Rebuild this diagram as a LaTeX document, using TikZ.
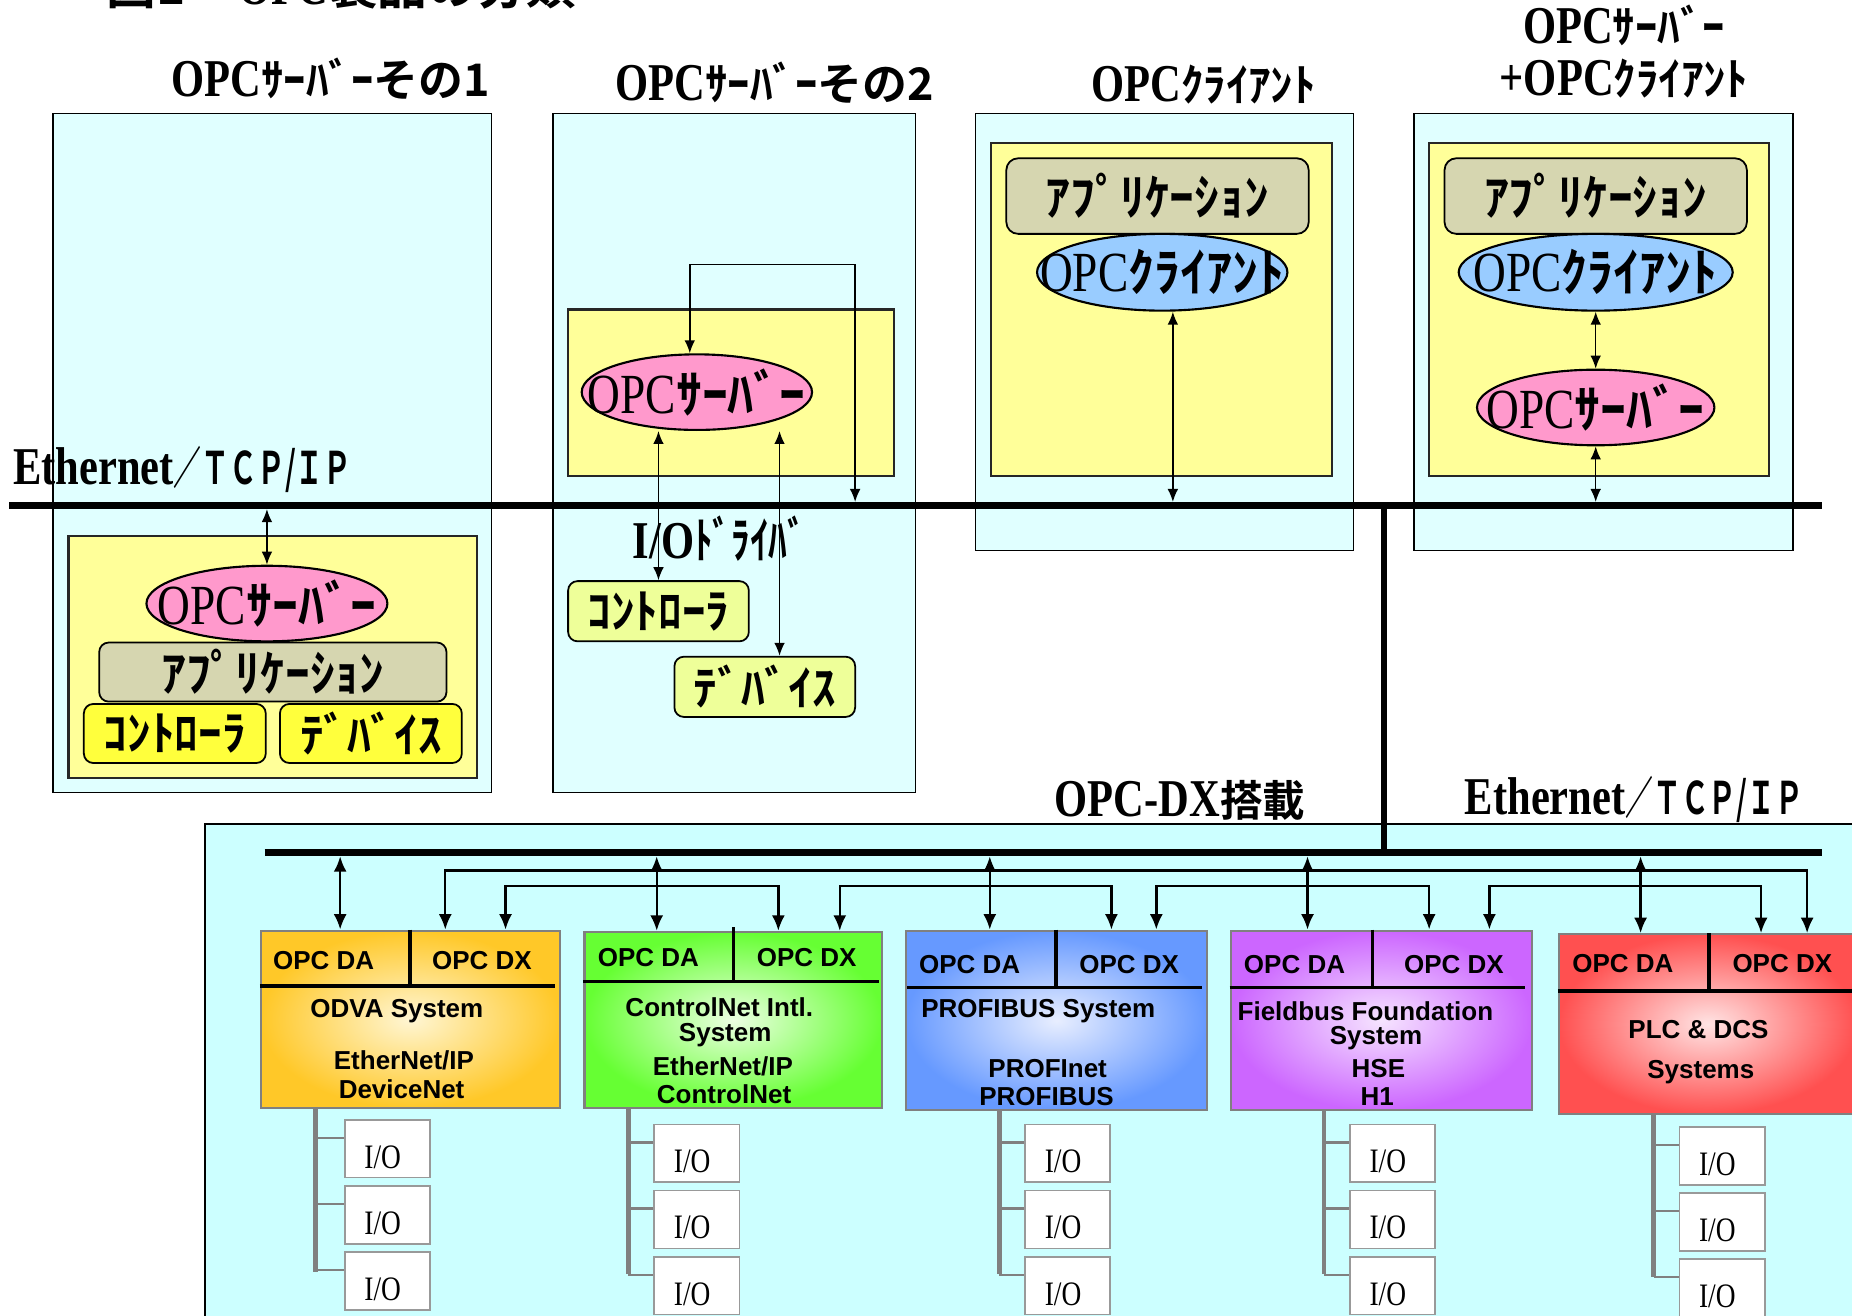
\documentclass[tikz,border=0pt]{standalone}
\usepackage{fontspec}
\usetikzlibrary{shapes.geometric,arrows.meta,calc}
\newfontfamily\tnr{Liberation Serif}[FakeStretch=0.8]
\newfontfamily\jp{Noto Sans CJK JP}[BoldFont={Noto Sans CJK JP Bold}]
\newfontfamily\jpn{Noto Sans CJK JP}[FakeStretch=0.75, BoldFont={Noto Sans CJK JP Bold}]
\newfontfamily\jpc{Noto Sans CJK JP}[FakeStretch=0.62, BoldFont={Noto Sans CJK JP Bold}]
\newfontfamily\ari{Liberation Sans}
\newcommand\fsz[1]{\fontsize{#1}{#1}\selectfont}
\newcommand\ttl[2]{{\fsz{45}\tnr\bfseries #1}{\fsz{38}\jp\bfseries #2}}
\newcommand\elt[2]{{\fsz{48}\tnr #1}{\fsz{44}\jp\bfseries #2}}
\newcommand\ethtxt{{\fsz{45}\tnr\bfseries Ethernet}{\fsz{38}\jpc\bfseries ／ＴＣＰ/ＩＰ}}
\definecolor{cyT}{RGB}{224,255,255}
\definecolor{cyB}{RGB}{204,255,255}
\definecolor{yel}{RGB}{255,255,153}
\definecolor{pnk}{RGB}{255,153,204}
\definecolor{blu}{RGB}{153,204,255}
\definecolor{kha}{RGB}{214,214,176}
\definecolor{yel2}{RGB}{255,255,60}
\definecolor{ygr}{RGB}{238,255,153}
\definecolor{oO}{RGB}{255,200,40}\definecolor{oI}{RGB}{255,246,212}
\definecolor{gO}{RGB}{102,255,51}\definecolor{gI}{RGB}{236,255,226}
\definecolor{bO}{RGB}{102,153,255}\definecolor{bI}{RGB}{232,238,255}
\definecolor{pO}{RGB}{204,102,255}\definecolor{pI}{RGB}{246,228,255}
\definecolor{rO}{RGB}{255,80,80}\definecolor{rI}{RGB}{255,228,228}
\definecolor{trk}{RGB}{128,128,128}
\begin{document}
\begin{tikzpicture}[x=1pt,y=-1pt,
  tbox/.style={draw=black, line width=1.3pt, fill=cyT, inner sep=0pt},
  ybox/.style={draw=black!85, line width=1.8pt, fill=yel, inner sep=0pt},
  ell/.style={ellipse, draw=black, line width=1.8pt, inner sep=0pt},
  rbox/.style={rounded corners=8pt, draw=black, line width=1.5pt, inner sep=0pt},
  arT/.style={line width=1.3pt, {Latex[length=11pt,width=9pt]}-{Latex[length=11pt,width=9pt]}},
  arB/.style={line width=2pt, {Latex[length=13pt,width=11pt]}-{Latex[length=13pt,width=11pt]}},
  bus/.style={line width=6pt},
  sysbox/.style={draw=gray, line width=2pt, inner sep=0pt},
  divl/.style={line width=3pt},
  iobox/.style={draw=gray!80, line width=1.5pt, fill=white, minimum width=72pt, minimum height=49pt, inner sep=0pt},
  iotext/.style={font={\fsz{29}\tnr}, xshift=-4pt, yshift=-7pt, inner sep=0pt},
  trunk/.style={draw=trk, line width=4pt},
  tickl/.style={draw=trk, line width=2pt},
  sysfont/.style={font={\fsz{22}\ari\bfseries}, inner sep=0pt}]
\useasboundingbox (0,0) rectangle (1568,1114);

% title (cut at top)
\node[anchor=base west, inner sep=0pt] (fig) at (90,4) {{\fsz{42}\jp\bfseries 図1}\hspace{45pt}{\fsz{45}\tnr\bfseries OPC}{\fsz{42}\jp\bfseries 製品の分類}};

% top device boxes
\node[tbox, minimum width=371pt, minimum height=575pt] (boxA) at (230.5,383.5) {};
\node[tbox, minimum width=307pt, minimum height=575pt] (boxB) at (621.5,383.5) {};
\node[tbox, minimum width=320pt, minimum height=370pt] (boxC) at (986,281) {};
\node[tbox, minimum width=321pt, minimum height=370pt] (boxD) at (1357.5,281) {};

% top labels
\node[anchor=base] (lab1) at (280,82) {\ttl{OPC}{ｻｰﾊﾞｰその1}};
\node[anchor=base] (lab2) at (656,85) {\ttl{OPC}{ｻｰﾊﾞｰその2}};
\node[anchor=base] (lab3) at (1019,86) {\ttl{OPC}{ｸﾗｲｱﾝﾄ}};
\node[anchor=base] (lab4a) at (1375,37) {\ttl{OPC}{ｻｰﾊﾞｰ}};
\node[anchor=base] (lab4b) at (1375,81) {\ttl{+OPC}{ｸﾗｲｱﾝﾄ}};

% yellow boxes
\node[ybox, minimum width=346pt, minimum height=205pt] (yA) at (231,556.5) {};
\node[ybox, minimum width=276pt, minimum height=141pt] (yB) at (619,332.5) {};
\node[ybox, minimum width=289pt, minimum height=282pt] (yC) at (983.5,262) {};
\node[ybox, minimum width=288pt, minimum height=282pt] (yD) at (1354,262) {};

% box A content
\node[rbox, fill=kha, minimum width=294pt, minimum height=50pt] (appA) at (231,569) {\fsz{42}\jp\bfseries ｱﾌﾟﾘｹｰｼｮﾝ};
\node[ell, fill=pnk, minimum width=204pt, minimum height=64pt,
  label={[name=ellAt]center:{\elt{OPC}{ｻｰﾊﾞｰ}}}] (ellA) at (226,511) {};
\node[rbox, fill=yel2, minimum width=154pt, minimum height=50pt] (ctrlA) at (148,621) {\fsz{40}\jp\bfseries ｺﾝﾄﾛｰﾗ};
\node[rbox, fill=yel2, minimum width=154pt, minimum height=50pt] (devA) at (314,621) {\fsz{40}\jp\bfseries ﾃﾞﾊﾞｲｽ};

% box B content
\node[ell, fill=pnk, minimum width=195pt, minimum height=64pt,
  label={[name=ellBt]center:{\elt{OPC}{ｻｰﾊﾞｰ}}}] (ellB) at (590,332) {};
\node[rbox, fill=ygr, minimum width=153pt, minimum height=51pt] (ctrlB) at (557.5,517.5) {\fsz{40}\jp\bfseries ｺﾝﾄﾛｰﾗ};
\node[rbox, fill=ygr, minimum width=153pt, minimum height=51pt] (devB) at (647.5,581.5) {\fsz{40}\jp\bfseries ﾃﾞﾊﾞｲｽ};
\node[anchor=base] (drv) at (609,473) {{\fsz{45}\tnr\bfseries I/O}{\fsz{42}\jpn\bfseries ﾄﾞﾗｲﾊﾞ}};

% box C content
\node[rbox, rounded corners=10pt, fill=kha, minimum width=256pt, minimum height=64pt] (appC) at (980,166) {\fsz{42}\jp\bfseries ｱﾌﾟﾘｹｰｼｮﾝ};
\node[ell, fill=blu, minimum width=212pt, minimum height=65pt,
  label={[name=ellCt]center:{\elt{OPC}{ｸﾗｲｱﾝﾄ}}}] (ellC) at (984,230.5) {};

% box D content
\node[rbox, rounded corners=10pt, fill=kha, minimum width=256pt, minimum height=64pt] (appD) at (1351,166) {\fsz{42}\jp\bfseries ｱﾌﾟﾘｹｰｼｮﾝ};
\node[ell, fill=blu, minimum width=232pt, minimum height=65pt,
  label={[name=ellDt]center:{\elt{OPC}{ｸﾗｲｱﾝﾄ}}}] (ellD) at (1351,230.5) {};
\node[ell, fill=pnk, minimum width=201pt, minimum height=64pt,
  label={[name=pnkDt]center:{\elt{OPC}{ｻｰﾊﾞｰ}}}] (pnkD) at (1351,345) {};

% bottom big box
\node[draw=black, line width=1.3pt, fill=cyB, minimum width=1440pt, minimum height=450pt, anchor=north west, inner sep=0pt] (bigbox) at (173,697) {};
\node[anchor=base] (dxlab) at (999,691) {{\fsz{45}\tnr\bfseries OPC-DX}{\fsz{36}\jp\bfseries 搭載}};
\node[anchor=base west, inner sep=0pt] (eth2) at (1240,690) {\ethtxt};

% top bus
\coordinate (busTL) at (8,428); \coordinate (busTR) at (1543,428);
\draw[bus] (busTL) -- (busTR);
\node[anchor=base west, inner sep=0pt] (eth1) at (11,410) {\ethtxt};
\coordinate (busTu) at (0,425); \coordinate (busTd) at (0,431); \coordinate (busBd) at (0,725);

% junction and bottom bus
\coordinate (jT) at (1172,428); \coordinate (jB) at (1172,722);
\draw[line width=5pt] (jT) -- (jB);
\coordinate (busBL) at (224,722); \coordinate (busBR) at (1543,722);
\draw[bus] (busBL) -- (busBR);

% top arrows
\draw[arT] (ellA.north) -- (ellA.north |- busTd);
\coordinate (drvTop) at (724,224);
\coordinate (ellBn) at ($(ellB.north)+(-6,0)$);
\draw[arT] (ellBn) |- (drvTop) -- (drvTop |- busTu);
\draw[arT] (ctrlB.north) -- (ctrlB.north |- ellB.south);
\coordinate (devBa) at ($(devB.north)+(12.5,0)$);
\draw[arT] (devBa) -- (devBa |- ellB.south);
\coordinate (ellCs) at ($(ellC.south)+(9,0)$);
\draw[arT] (ellCs) -- (ellCs |- busTu);
\draw[arT] (ellD.south) -- (pnkD.north);
\draw[arT] (pnkD.south) -- (pnkD.south |- busTu);

% bottom system boxes
\node[sysbox, inner color=oI, outer color=oO, minimum width=253pt, minimum height=150pt] (B1) at (347.5,863) {};
\node[sysbox, inner color=gI, outer color=gO, minimum width=252pt, minimum height=149pt] (B2) at (621,863.5) {};
\node[sysbox, inner color=bI, outer color=bO, minimum width=255pt, minimum height=152pt] (B3) at (894.5,864) {};
\node[sysbox, inner color=pI, outer color=pO, minimum width=255pt, minimum height=152pt] (B4) at (1169.5,864) {};
\node[sysbox, inner color=rI, outer color=rO, minimum width=252pt, minimum height=152pt] (B5) at (1446,867) {};

\draw[divl] ($(B1.north west)+(127,0)$) -- ++(0,48);
\draw[divl] ($(B1.north west)+(0,48)$) -- ++(250,0);
\draw[divl] ($(B2.north west)+(127,-3)$) -- ++(0,46);
\draw[divl] ($(B2.north west)+(0,43)$) -- ++(250,0);
\draw[divl] ($(B3.north west)+(128,0)$) -- ++(0,49);
\draw[divl] ($(B3.north west)+(2,49)$) -- ++(250,0);
\draw[divl] ($(B4.north west)+(121,0)$) -- ++(0,49);
\draw[divl] ($(B4.north west)+(0,49)$) -- ++(250,0);
\draw[divl] ($(B5.north west)+(128,0)$) -- ++(0,49);
\draw[divl] ($(B5.north west)+(0,49)$) -- ++(252,0);

\foreach \xy/\t [count=\i] in {
  {274,813}/{OPC DA}, {408,813}/{OPC DX}, {336,856}/{ODVA System}, {342,898}/{EtherNet/IP}, {340,922}/{DeviceNet},
  {549,811}/{OPC DA}, {683,811}/{OPC DX}, {609,853}/{ControlNet Intl.}, {614,876}/{System}, {612,903}/{EtherNet/IP}, {613,926}/{ControlNet},
  {821,817}/{OPC DA}, {956,817}/{OPC DX}, {879,856}/{PROFIBUS System}, {887,905}/{PROFInet}, {886,928}/{PROFIBUS},
  {1096,817}/{OPC DA}, {1231,817}/{OPC DX}, {1156,856}/{Fieldbus Foundation}, {1165,879}/{System}, {1167,905}/{HSE}, {1166,928}/{H1},
  {1374,816}/{OPC DA}, {1509,816}/{OPC DX}, {1438,872}/{PLC \& DCS}, {1440,908}/{Systems}}
  {\node[sysfont] (st\i) at (\xy) {\t};}

% bottom arrows
\coordinate (upY) at (0,737); \coordinate (loY) at (0,750);
\coordinate (d1) at ($(B1.north west)+(68,0)$);
\coordinate (d2) at ($(B2.north west)+(62,0)$);
\coordinate (d3) at ($(B3.north west)+(72,0)$);
\coordinate (d4) at ($(B4.north west)+(66,0)$);
\coordinate (d5) at ($(B5.north west)+(70,0)$);
\foreach \d in {d1,d2,d3,d4,d5} {\draw[arB] (\d) -- (\d |- busBd);}
\coordinate (x1a) at ($(B1.north west)+(157,0)$);
\coordinate (x1b) at ($(B1.north west)+(208,0)$);
\coordinate (x2a) at ($(B2.north west)+(165,0)$);
\coordinate (x2b) at ($(B2.north west)+(217,0)$);
\coordinate (x3a) at ($(B3.north west)+(175,0)$);
\coordinate (x3b) at ($(B3.north west)+(213,0)$);
\coordinate (x4a) at ($(B4.north west)+(169,0)$);
\coordinate (x4b) at ($(B4.north west)+(220,0)$);
\coordinate (x5a) at ($(B5.north west)+(172,0)$);
\coordinate (x5b) at ($(B5.north west)+(211,0)$);
\draw[arB] (x1a) |- (x5b |- upY) -- (x5b);
\draw[arB] (x1b) |- (x2a |- loY) -- (x2a);
\draw[arB] (x2b) |- (x3a |- loY) -- (x3a);
\draw[arB] (x3b) |- (x4a |- loY) -- (x4a);
\draw[arB] (x4b) |- (x5a |- loY) -- (x5a);

% I/O groups
\foreach \tx/\bx/\ty/\tb/\yo [count=\g] in {267/328/938/1077/0, 532/590/938/1079/4, 846/904/940/1079/4, 1121/1179/940/1079/4, 1400/1458/943/1081/6} {
  \coordinate (tt\g) at (\tx,\ty);
  \coordinate (tb\g) at (\tx,\tb);
  \draw[trunk] (tt\g) -- (tb\g);
  \foreach \k in {0,1,2} {
    \node[iobox, label={[iotext, name=iot\g-\k]center:I/O}] (io\g-\k) at (\bx,{972.5+\yo+56*\k}) {};
    \coordinate (tk\g-\k) at ($(io\g-\k.north west)+(0,16)$);
    \draw[tickl] (tk\g-\k -| tt\g) -- (tk\g-\k);
  }
}
\end{tikzpicture}
\end{document}
